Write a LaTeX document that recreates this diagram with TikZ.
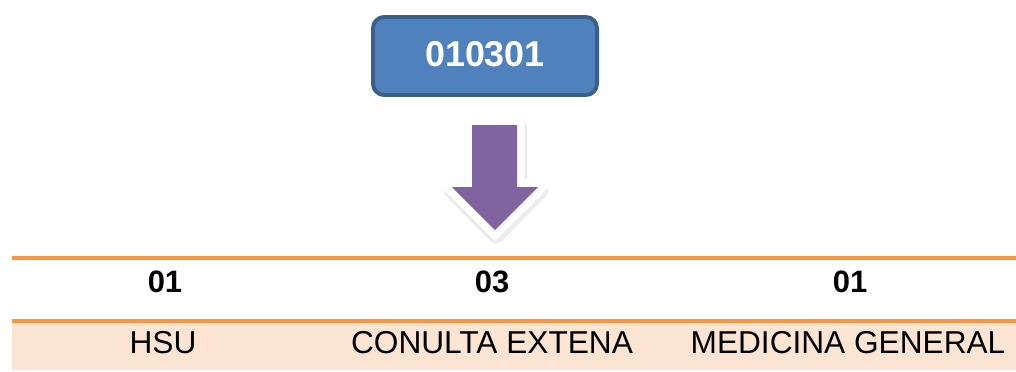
\documentclass[tikz,border=0pt]{standalone}
\usepackage{fontspec}
\setmainfont{Liberation Sans}
\definecolor{boxblue}{HTML}{4F81BD}
\definecolor{boxedge}{HTML}{3A5F8B}
\definecolor{arrowpurple}{HTML}{8064A2}
\definecolor{lineorange}{HTML}{F79646}
\definecolor{rowpeach}{HTML}{FCE4D3}
\tikzset{
  codebox/.style={draw=boxedge,fill=boxblue,line width=2.8pt,rounded corners=8pt,
    minimum width=5.6cm,minimum height=1.95cm,text=white,text depth=0.33em,
    font=\fontsize{25.5}{30}\selectfont\bfseries},
  headcell/.style={anchor=base,font=\fontsize{22}{26}\selectfont\bfseries},
  namecell/.style={anchor=base,font=\fontsize{22.5}{27}\selectfont}
}
\begin{document}
\begin{tikzpicture}[x=0.025cm,y=-0.025cm]
  \useasboundingbox (0,0) rectangle (1016,371);
  % code box
  \node[codebox] (code) at (485,56) {010301};
  % block arrow with white rim and soft shadow
  \fill[black,opacity=0.08,line width=13pt,line join=round,draw=black,draw opacity=0.08]
    (473,128) -- (518,128) -- (518,190) -- (539,190) -- (496,234) -- (453,190) -- (473,190) -- cycle;
  \draw[white,line width=11pt,line join=miter,fill=arrowpurple]
    (472,125) -- (517,125) -- (517,187) -- (538,187) -- (495,230) -- (452,187) -- (472,187) -- cycle;
  \fill[arrowpurple]
    (472,125) -- (517,125) -- (517,187) -- (538,187) -- (495,230) -- (452,187) -- (472,187) -- cycle;
  % table
  \fill[rowpeach] (12,321) rectangle (1016,370);
  \draw[lineorange,line width=2.5pt] (12,258) -- (1016,258);
  \draw[lineorange,line width=2.5pt] (12,321) -- (1016,321);
  \node[headcell] (c1) at (165,292) {01};
  \node[headcell] (c2) at (492,292) {03};
  \node[headcell] (c3) at (850,292) {01};
  \node[namecell] (d1) at (163,353) {HSU};
  \node[namecell] (d2) at (492,353) {CONULTA EXTENA};
  \node[namecell] (d3) at (848,353) {MEDICINA GENERAL};
\end{tikzpicture}
\end{document}
